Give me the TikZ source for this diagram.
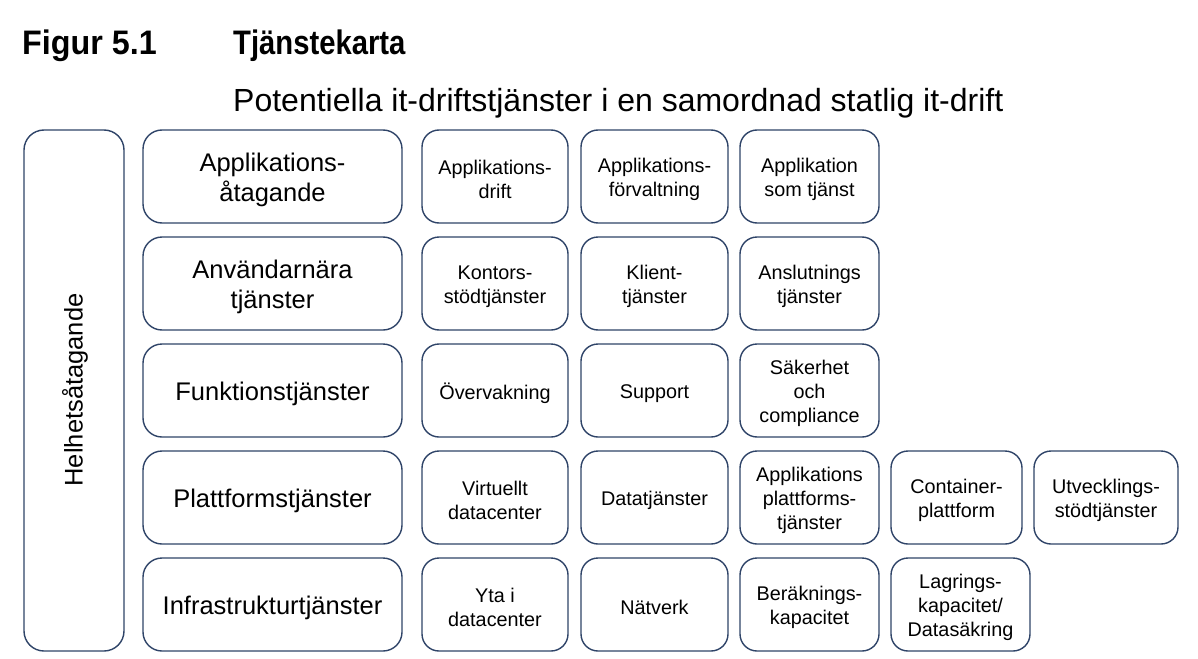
\documentclass[tikz,border=0pt]{standalone}
\usepackage{fontspec}
\setmainfont{Liberation Sans}
\newfontfamily\titlefont[FakeStretch=0.86]{Liberation Sans}
\newfontfamily\figfont[FakeStretch=0.95]{Liberation Sans}
\definecolor{navy}{HTML}{2F4468}
\tikzset{
  box/.style={draw=navy, line width=1.4pt, rounded corners=19pt, inner sep=0pt},
  cat/.style={box, minimum width=259pt, minimum height=93pt},
  cat text/.style={align=center, inner sep=0pt, font=\fontsize{25.5}{30}\selectfont},
  cell/.style={box, rounded corners=17pt, minimum height=93pt},
  cell text/.style={align=center, inner sep=0pt, font=\fontsize{19.8}{24}\selectfont},
  wa/.style={minimum width=146pt},
  wb/.style={minimum width=147pt},
  wc/.style={minimum width=139pt},
  wd/.style={minimum width=131pt},
  we/.style={minimum width=144pt},
  ttl/.style={anchor=base west, inner sep=0pt, font=\titlefont\fontsize{34}{40}\selectfont\bfseries},
}
% #1 kind (cat/cell), #2 extra style, #3 name, #4 position, #5 text
\newcommand\bx[5]{%
  \node[#1,#2] (#3) at (#4) {};
  \node[#1 text] (#3-t) at ([yshift=-3pt]#3.center) {#5};}
\begin{document}
\begin{tikzpicture}[x=1pt,y=-1pt]
\useasboundingbox[fill=white] (0,0) rectangle (1198,658);
% titles
\node[ttl, font=\figfont\fontsize{34}{40}\selectfont\bfseries] (fig) at (22,55) {Figur 5.1};
\node[ttl] (tit) at (233,55) {Tjänstekarta};
\node[anchor=base west, inner sep=0pt, font=\fontsize{32}{38}\selectfont] (sub) at (233,111) {Potentiella it-driftstjänster i en samordnad statlig it-drift};
% left column
\node[box, rounded corners=20pt, minimum width=100pt, minimum height=521pt] (helhet) at (74,390.5) {};
\node[rotate=90, font=\fontsize{25.5}{30}\selectfont] (helhettxt) at (75,390) {Helhetsåtagande};
% categories
\bx{cat}{}{c1}{272.5,176.5}{Applikations-\\åtagande}
\bx{cat}{}{c2}{272.5,283.5}{Användarnära\\tjänster}
\bx{cat}{}{c3}{272.5,390.5}{Funktionstjänster}
\bx{cat}{}{c4}{272.5,497.5}{Plattformstjänster}
\bx{cat}{}{c5}{272.5,604.5}{Infrastrukturtjänster}
% row 1
\bx{cell}{wa}{a1}{495,176.5}{Applikations-\\drift}
\bx{cell}{wb}{a2}{654.5,176.5}{Applikations-\\förvaltning}
\bx{cell}{wc}{a3}{809.5,176.5}{Applikation\\som tjänst}
% row 2
\bx{cell}{wa}{b1}{495,283.5}{Kontors-\\stödtjänster}
\bx{cell}{wb}{b2}{654.5,283.5}{Klient-\\tjänster}
\bx{cell}{wc}{b3}{809.5,283.5}{Anslutnings\\tjänster}
% row 3
\bx{cell}{wa}{f1}{495,390.5}{Övervakning}
\bx{cell}{wb}{f2}{654.5,390.5}{Support}
\bx{cell}{wc}{f3}{809.5,390.5}{Säkerhet\\och\\compliance}
% row 4
\bx{cell}{wa}{p1}{495,497.5}{Virtuellt\\datacenter}
\bx{cell}{wb}{p2}{654.5,497.5}{Datatjänster}
\bx{cell}{wc}{p3}{809.5,497.5}{Applikations\\plattforms-\\tjänster}
\bx{cell}{wd}{p4}{956.5,497.5}{Container-\\plattform}
\bx{cell}{we}{p5}{1106,497.5}{Utvecklings-\\stödtjänster}
% row 5
\bx{cell}{wa}{i1}{495,604.5}{Yta i\\datacenter}
\bx{cell}{wb}{i2}{654.5,604.5}{Nätverk}
\bx{cell}{wc}{i3}{809.5,604.5}{Beräknings-\\kapacitet}
\bx{cell}{wc}{i4}{960.5,604.5}{Lagrings-\\kapacitet/\\Datasäkring}
\end{tikzpicture}
\end{document}
